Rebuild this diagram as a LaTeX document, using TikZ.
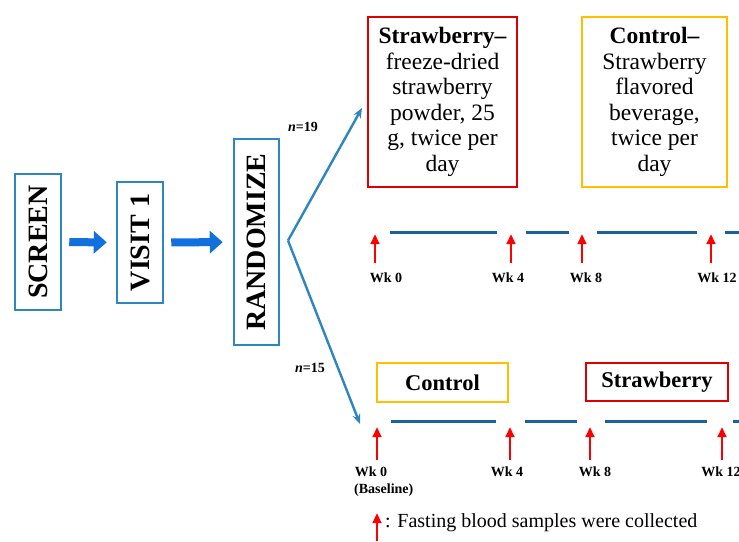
\documentclass[tikz,border=0pt]{standalone}
\usepackage{fontspec}
\setmainfont{Liberation Serif}
\usepackage{xcolor}
\usepackage{tikz}
\usetikzlibrary{
    positioning,
    arrows.meta
}
\definecolor{boxblue}{RGB}{46,134,193}
\definecolor{lineblue}{RGB}{28,96,156}
\definecolor{armred}{RGB}{222,0,0}
\definecolor{armyellow}{RGB}{255,190,0}
\definecolor{flowblue}{RGB}{18,112,222}
\tikzset{
    stagebox/.style={
        rectangle, draw=boxblue, line width=2.5pt,
        rotate=90, inner sep=0pt,
        font=\fontsize{28}{30}\selectfont\bfseries
    },
    armbox/.style={
        rectangle, line width=2.5pt, inner sep=0pt,
        align=center, font=\fontsize{23.5}{25.5}\selectfont
    },
    flowarrow/.style={
        -{Triangle[length=13pt,width=22pt]}, line width=8pt, draw=flowblue
    },
    splitarrow/.style={
        -{Stealth[length=10pt,width=8pt]}, line width=2.4pt, draw=boxblue
    },
    timeline/.style={
        line width=3pt, draw=lineblue
    },
    samplearrow/.style={
        -{Triangle[length=10pt,width=8.5pt]}, line width=2.4pt, draw=red
    },
    weeklabel/.style={
        font=\fontsize{14}{16}\selectfont\bfseries, inner sep=0pt
    }
}
\begin{document}
\begin{tikzpicture}[
        x=1pt, y=-1pt,
        nlabel/.style={font=\fontsize{14}{16}\selectfont\bfseries, inner sep=0pt},
        dosebox/.style={armbox, font=\fontsize{22.5}{24}\selectfont\bfseries}
    ]
        \useasboundingbox (0,0) rectangle (739,541);

        % Screening and randomisation
        \node[stagebox, minimum width=136pt, minimum height=46pt] (screen) at (38,242) {SCREEN};
        \node[stagebox, minimum width=121pt, minimum height=46pt] (visit1) at (140,242.5) {VISIT 1};
        \node[stagebox, minimum width=206pt, minimum height=45pt] (randomize) at (256.5,242) {RANDOMIZE};

        \draw[flowarrow, shorten <=7pt, shorten >=9pt] (screen) -- (visit1);
        \draw[flowarrow, shorten <=7pt, shorten >=10pt] (visit1) -- (randomize);

        % Split into the two sequences
        \coordinate (split) at (288,240.5);
        \coordinate (armA) at (362,108);
        \coordinate (armB) at (360,424);
        \draw[splitarrow] (split) -- (armA);
        \draw[splitarrow] (split) -- (armB);
        \node[nlabel] (nA) at (303,127) {\textit{n}=19};
        \node[nlabel] (nB) at (310,368) {\textit{n}=15};

        % Upper sequence
        \node[armbox, draw=armred, minimum width=149pt, minimum height=170pt] (berryA) at (442.5,102)
            {{\bfseries Strawberry--}\\freeze-dried\\strawberry\\powder, 25\\g, twice per\\day};
        \node[armbox, draw=armyellow, minimum width=145pt, minimum height=170pt] (ctrlA) at (654.5,102)
            {{\bfseries Control--}\\Strawberry\\flavored\\beverage,\\twice per\\day};

        \foreach \xa/\xb in {390/497, 526/569, 597/697}
            \draw[timeline] (\xa,232) -- (\xb,232);
        \coordinate (endA) at (725,232);
        \draw[timeline, -{Triangle[length=10pt,width=11pt]}] (endA) -- ++(24,0);

        \foreach \x in {375, 511, 582, 711}
            \draw[samplearrow] (\x,263) -- (\x,234);
        \node[weeklabel] (wkA0) at (386,278) {Wk 0};
        \node[weeklabel] (wkA4) at (508,278) {Wk 4};
        \node[weeklabel] (wkA8) at (586,278) {Wk 8};
        \node[weeklabel] (wkA12) at (717,278) {Wk 12};

        % Lower sequence
        \node[dosebox, draw=armyellow, minimum width=131pt, minimum height=39pt] (ctrlB) at (442.5,382.5) {Control};
        \node[dosebox, draw=armred, minimum width=142pt, minimum height=38pt] (berryB) at (657,382) {Strawberry};

        \foreach \xa/\xb in {391/496, 525/577, 605/707}
            \draw[timeline] (\xa,421) -- (\xb,421);
        \coordinate (endB) at (733,421);
        \draw[timeline, -{Triangle[length=10pt,width=11pt]}] (endB) -- ++(16,0);

        \foreach \x in {377, 510, 590, 722}
            \draw[samplearrow] (\x,460) -- (\x,427);
        \node[weeklabel] (wkB0) at (371,472) {Wk 0};
        \node[weeklabel, anchor=west] (base) at (354,490) {(Baseline)};
        \node[weeklabel] (wkB4) at (507,472) {Wk 4};
        \node[weeklabel] (wkB8) at (595,472) {Wk 8};
        \node[weeklabel] (wkB12) at (721,472) {Wk 12};

        % Legend
        \coordinate (legtail) at (377,541);
        \draw[samplearrow] (legtail) -- ++(0,-28);
        \node[anchor=west, inner sep=0pt, font=\fontsize{20}{22}\selectfont] (legend) at (385,523)
            {: Fasting blood samples were collected};

    \end{tikzpicture}
\end{document}
